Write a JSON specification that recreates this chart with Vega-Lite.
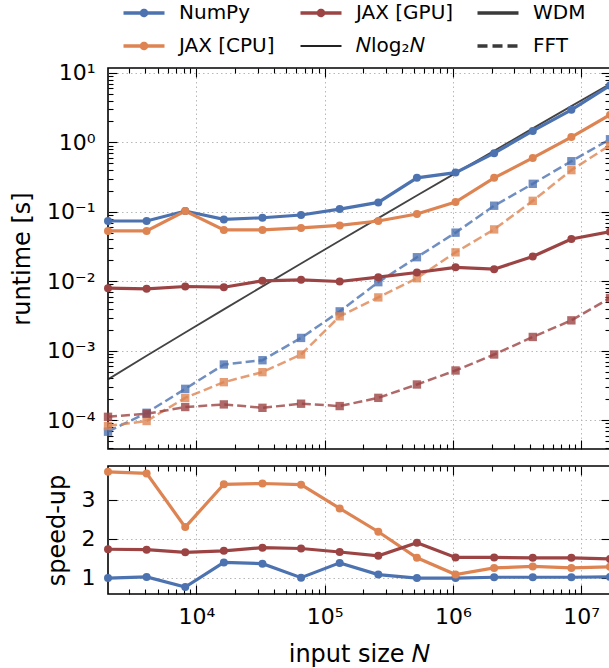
{
"$schema":"https://vega.github.io/schema/vega-lite/v6.json",
"padding":{"left":9,"right":0,"top":2,"bottom":4},
"background":"white",
"config":{
  "font":"DejaVu Sans",
  "view":{"stroke":"#000","strokeWidth":1.6},
  "axis":{"labelFont":"DejaVu Sans","titleFont":"DejaVu Sans","labelFontSize":22,"titleFontSize":24,"titleFontWeight":"normal","labelColor":"#000","titleColor":"#000","domain":false,"gridColor":"#b0b0b0","gridDash":[1.5,3],"gridWidth":0.9,"tickColor":"#000","tickWidth":1.1}
},
"datasets":{
"runtime":[
{"N":2048,"impl":"NumPy","method":"WDM","runtime":0.0738},
{"N":4096,"impl":"NumPy","method":"WDM","runtime":0.0738},
{"N":8192,"impl":"NumPy","method":"WDM","runtime":0.1026},
{"N":16384,"impl":"NumPy","method":"WDM","runtime":0.0778},
{"N":32768,"impl":"NumPy","method":"WDM","runtime":0.0822},
{"N":65536,"impl":"NumPy","method":"WDM","runtime":0.0899},
{"N":131072,"impl":"NumPy","method":"WDM","runtime":0.1096},
{"N":262144,"impl":"NumPy","method":"WDM","runtime":0.1364},
{"N":524288,"impl":"NumPy","method":"WDM","runtime":0.308},
{"N":1048576,"impl":"NumPy","method":"WDM","runtime":0.367},
{"N":2097152,"impl":"NumPy","method":"WDM","runtime":0.698},
{"N":4194304,"impl":"NumPy","method":"WDM","runtime":1.46},
{"N":8388608,"impl":"NumPy","method":"WDM","runtime":2.94},
{"N":16777216,"impl":"NumPy","method":"WDM","runtime":6.59},
{"N":2048,"impl":"JAX [CPU]","method":"WDM","runtime":0.0531},
{"N":4096,"impl":"JAX [CPU]","method":"WDM","runtime":0.0531},
{"N":8192,"impl":"JAX [CPU]","method":"WDM","runtime":0.1026},
{"N":16384,"impl":"JAX [CPU]","method":"WDM","runtime":0.0548},
{"N":32768,"impl":"JAX [CPU]","method":"WDM","runtime":0.0548},
{"N":65536,"impl":"JAX [CPU]","method":"WDM","runtime":0.0586},
{"N":131072,"impl":"JAX [CPU]","method":"WDM","runtime":0.0638},
{"N":262144,"impl":"JAX [CPU]","method":"WDM","runtime":0.0738},
{"N":524288,"impl":"JAX [CPU]","method":"WDM","runtime":0.0929},
{"N":1048576,"impl":"JAX [CPU]","method":"WDM","runtime":0.138},
{"N":2097152,"impl":"JAX [CPU]","method":"WDM","runtime":0.308},
{"N":4194304,"impl":"JAX [CPU]","method":"WDM","runtime":0.597},
{"N":8388608,"impl":"JAX [CPU]","method":"WDM","runtime":1.19},
{"N":16777216,"impl":"JAX [CPU]","method":"WDM","runtime":2.49},
{"N":2048,"impl":"JAX [GPU]","method":"WDM","runtime":0.00796},
{"N":4096,"impl":"JAX [GPU]","method":"WDM","runtime":0.0078},
{"N":8192,"impl":"JAX [GPU]","method":"WDM","runtime":0.00841},
{"N":16384,"impl":"JAX [GPU]","method":"WDM","runtime":0.00822},
{"N":32768,"impl":"JAX [GPU]","method":"WDM","runtime":0.01016},
{"N":65536,"impl":"JAX [GPU]","method":"WDM","runtime":0.0105},
{"N":131072,"impl":"JAX [GPU]","method":"WDM","runtime":0.00993},
{"N":262144,"impl":"JAX [GPU]","method":"WDM","runtime":0.01145},
{"N":524288,"impl":"JAX [GPU]","method":"WDM","runtime":0.01337},
{"N":1048576,"impl":"JAX [GPU]","method":"WDM","runtime":0.0159},
{"N":2097152,"impl":"JAX [GPU]","method":"WDM","runtime":0.01492},
{"N":4194304,"impl":"JAX [GPU]","method":"WDM","runtime":0.0227},
{"N":8388608,"impl":"JAX [GPU]","method":"WDM","runtime":0.0407},
{"N":16777216,"impl":"JAX [GPU]","method":"WDM","runtime":0.0518},
{"N":2048,"impl":"NumPy","method":"FFT","runtime":0.0000684},
{"N":4096,"impl":"NumPy","method":"FFT","runtime":0.000128},
{"N":8192,"impl":"NumPy","method":"FFT","runtime":0.000283},
{"N":16384,"impl":"NumPy","method":"FFT","runtime":0.000634},
{"N":32768,"impl":"NumPy","method":"FFT","runtime":0.000731},
{"N":65536,"impl":"NumPy","method":"FFT","runtime":0.00153},
{"N":131072,"impl":"NumPy","method":"FFT","runtime":0.00369},
{"N":262144,"impl":"NumPy","method":"FFT","runtime":0.00971},
{"N":524288,"impl":"NumPy","method":"FFT","runtime":0.0222},
{"N":1048576,"impl":"NumPy","method":"FFT","runtime":0.0501},
{"N":2097152,"impl":"NumPy","method":"FFT","runtime":0.1224},
{"N":4194304,"impl":"NumPy","method":"FFT","runtime":0.253},
{"N":8388608,"impl":"NumPy","method":"FFT","runtime":0.535},
{"N":16777216,"impl":"NumPy","method":"FFT","runtime":1.108},
{"N":2048,"impl":"JAX [CPU]","method":"FFT","runtime":0.0000826},
{"N":4096,"impl":"JAX [CPU]","method":"FFT","runtime":0.0000975},
{"N":8192,"impl":"JAX [CPU]","method":"FFT","runtime":0.00021},
{"N":16384,"impl":"JAX [CPU]","method":"FFT","runtime":0.000353},
{"N":32768,"impl":"JAX [CPU]","method":"FFT","runtime":0.000492},
{"N":65536,"impl":"JAX [CPU]","method":"FFT","runtime":0.000883},
{"N":131072,"impl":"JAX [CPU]","method":"FFT","runtime":0.00313},
{"N":262144,"impl":"JAX [CPU]","method":"FFT","runtime":0.00586},
{"N":524288,"impl":"JAX [CPU]","method":"FFT","runtime":0.01107},
{"N":1048576,"impl":"JAX [CPU]","method":"FFT","runtime":0.0261},
{"N":2097152,"impl":"JAX [CPU]","method":"FFT","runtime":0.0558},
{"N":4194304,"impl":"JAX [CPU]","method":"FFT","runtime":0.144},
{"N":8388608,"impl":"JAX [CPU]","method":"FFT","runtime":0.398},
{"N":16777216,"impl":"JAX [CPU]","method":"FFT","runtime":0.909},
{"N":2048,"impl":"JAX [GPU]","method":"FFT","runtime":0.000112},
{"N":4096,"impl":"JAX [GPU]","method":"FFT","runtime":0.000124},
{"N":8192,"impl":"JAX [GPU]","method":"FFT","runtime":0.000155},
{"N":16384,"impl":"JAX [GPU]","method":"FFT","runtime":0.000169},
{"N":32768,"impl":"JAX [GPU]","method":"FFT","runtime":0.000151},
{"N":65536,"impl":"JAX [GPU]","method":"FFT","runtime":0.000173},
{"N":131072,"impl":"JAX [GPU]","method":"FFT","runtime":0.00016},
{"N":262144,"impl":"JAX [GPU]","method":"FFT","runtime":0.00021},
{"N":524288,"impl":"JAX [GPU]","method":"FFT","runtime":0.000327},
{"N":1048576,"impl":"JAX [GPU]","method":"FFT","runtime":0.00052},
{"N":2097152,"impl":"JAX [GPU]","method":"FFT","runtime":0.000883},
{"N":4194304,"impl":"JAX [GPU]","method":"FFT","runtime":0.00158},
{"N":8388608,"impl":"JAX [GPU]","method":"FFT","runtime":0.00274},
{"N":16777216,"impl":"JAX [GPU]","method":"FFT","runtime":0.00573},
{"N":2048,"impl":"𝑁log₂𝑁","method":"ref","runtime":0.0003875},
{"N":4096,"impl":"𝑁log₂𝑁","method":"ref","runtime":0.0008454},
{"N":8192,"impl":"𝑁log₂𝑁","method":"ref","runtime":0.001832},
{"N":16384,"impl":"𝑁log₂𝑁","method":"ref","runtime":0.003945},
{"N":32768,"impl":"𝑁log₂𝑁","method":"ref","runtime":0.008454},
{"N":65536,"impl":"𝑁log₂𝑁","method":"ref","runtime":0.018035},
{"N":131072,"impl":"𝑁log₂𝑁","method":"ref","runtime":0.038325},
{"N":262144,"impl":"𝑁log₂𝑁","method":"ref","runtime":0.08116},
{"N":524288,"impl":"𝑁log₂𝑁","method":"ref","runtime":0.17134},
{"N":1048576,"impl":"𝑁log₂𝑁","method":"ref","runtime":0.36071},
{"N":2097152,"impl":"𝑁log₂𝑁","method":"ref","runtime":0.75749},
{"N":4194304,"impl":"𝑁log₂𝑁","method":"ref","runtime":1.5871},
{"N":8388608,"impl":"𝑁log₂𝑁","method":"ref","runtime":3.3185},
{"N":16777216,"impl":"𝑁log₂𝑁","method":"ref","runtime":6.9256}
],
"speedup":[
{"N":2048,"impl":"NumPy","speedup":0.99},
{"N":4096,"impl":"NumPy","speedup":1.02},
{"N":8192,"impl":"NumPy","speedup":0.76},
{"N":16384,"impl":"NumPy","speedup":1.39},
{"N":32768,"impl":"NumPy","speedup":1.36},
{"N":65536,"impl":"NumPy","speedup":1.0},
{"N":131072,"impl":"NumPy","speedup":1.38},
{"N":262144,"impl":"NumPy","speedup":1.08},
{"N":524288,"impl":"NumPy","speedup":0.99},
{"N":1048576,"impl":"NumPy","speedup":0.99},
{"N":2097152,"impl":"NumPy","speedup":1.01},
{"N":4194304,"impl":"NumPy","speedup":1.01},
{"N":8388608,"impl":"NumPy","speedup":1.01},
{"N":16777216,"impl":"NumPy","speedup":1.02},
{"N":2048,"impl":"JAX [CPU]","speedup":3.72},
{"N":4096,"impl":"JAX [CPU]","speedup":3.68},
{"N":8192,"impl":"JAX [CPU]","speedup":2.3},
{"N":16384,"impl":"JAX [CPU]","speedup":3.4},
{"N":32768,"impl":"JAX [CPU]","speedup":3.42},
{"N":65536,"impl":"JAX [CPU]","speedup":3.39},
{"N":131072,"impl":"JAX [CPU]","speedup":2.78},
{"N":262144,"impl":"JAX [CPU]","speedup":2.18},
{"N":524288,"impl":"JAX [CPU]","speedup":1.51},
{"N":1048576,"impl":"JAX [CPU]","speedup":1.08},
{"N":2097152,"impl":"JAX [CPU]","speedup":1.25},
{"N":4194304,"impl":"JAX [CPU]","speedup":1.29},
{"N":8388608,"impl":"JAX [CPU]","speedup":1.25},
{"N":16777216,"impl":"JAX [CPU]","speedup":1.28},
{"N":2048,"impl":"JAX [GPU]","speedup":1.73},
{"N":4096,"impl":"JAX [GPU]","speedup":1.72},
{"N":8192,"impl":"JAX [GPU]","speedup":1.65},
{"N":16384,"impl":"JAX [GPU]","speedup":1.69},
{"N":32768,"impl":"JAX [GPU]","speedup":1.77},
{"N":65536,"impl":"JAX [GPU]","speedup":1.75},
{"N":131072,"impl":"JAX [GPU]","speedup":1.66},
{"N":262144,"impl":"JAX [GPU]","speedup":1.56},
{"N":524288,"impl":"JAX [GPU]","speedup":1.9},
{"N":1048576,"impl":"JAX [GPU]","speedup":1.52},
{"N":2097152,"impl":"JAX [GPU]","speedup":1.52},
{"N":4194304,"impl":"JAX [GPU]","speedup":1.51},
{"N":8388608,"impl":"JAX [GPU]","speedup":1.51},
{"N":16777216,"impl":"JAX [GPU]","speedup":1.48}
]
},
"spacing":13,
"resolve":{"scale":{"color":"independent"},"legend":{"color":"independent"}},
"vconcat":[
{
 "width":502,"height":381,
 "data":{"name":"runtime"},
 "layer":[
  {
   "encoding":{
    "x":{"field":"N","type":"quantitative","scale":{"type":"log","domain":[2048,16777216],"nice":false},
      "axis":{"orient":"bottom","title":null,"labels":false,
        "values":[3000,4000,5000,6000,7000,8000,9000,10000,20000,30000,40000,50000,60000,70000,80000,90000,100000,200000,300000,400000,500000,600000,700000,800000,900000,1000000,2000000,3000000,4000000,5000000,6000000,7000000,8000000,9000000,10000000],
        "tickSize":{"condition":{"test":"abs(log(datum.value)/LN10 - round(log(datum.value)/LN10)) < 0.001","value":-9},"value":-5},
        "gridOpacity":{"condition":{"test":"abs(log(datum.value)/LN10 - round(log(datum.value)/LN10)) < 0.001","value":1},"value":0}}},
    "y":{"field":"runtime","type":"quantitative","scale":{"type":"log","domain":[0.00003855,11.75],"nice":false},
      "axis":{"orient":"left","title":"runtime [s]","titlePadding":12,"labelPadding":22,
        "values":[0.00004,0.00005,0.00006,0.00007,0.00008,0.00009,0.0001,0.0002,0.0003,0.0004,0.0005,0.0006,0.0007,0.0008,0.0009,0.001,0.002,0.003,0.004,0.005,0.006,0.007,0.008,0.009,0.01,0.02,0.03,0.04,0.05,0.06,0.07,0.08,0.09,0.1,0.2,0.3,0.4,0.5,0.6,0.7,0.8,0.9,1,2,3,4,5,6,7,8,9,10],
        "labelExpr":"abs(log(datum.value)/LN10 - round(log(datum.value)/LN10)) < 0.001 ? '10' + (round(log(datum.value)/LN10) < 0 ? '⁻' : '') + ['⁰','¹','²','³','⁴','⁵','⁶','⁷'][abs(round(log(datum.value)/LN10))] : ''",
        "tickSize":{"condition":{"test":"abs(log(datum.value)/LN10 - round(log(datum.value)/LN10)) < 0.001","value":-9},"value":-5},
        "gridOpacity":{"condition":{"test":"abs(log(datum.value)/LN10 - round(log(datum.value)/LN10)) < 0.001","value":1},"value":0}}},
    "color":{"field":"impl","type":"nominal",
      "scale":{"domain":["NumPy","JAX [GPU]","WDM","JAX [CPU]","𝑁log₂𝑁","FFT"],"range":["#4c72b0","#9c4444","#3a3a3a","#dd8452","#222222","#3a3a3a"]},
      "legend":{"orient":"none","legendX":26,"legendY":-65,"direction":"horizontal","columns":3,"gridAlign":"all","title":null,
        "labelFontSize":20,"labelFont":"DejaVu Sans","labelColor":"#000","labelLimit":300,
        "symbolSize":400,"symbolType":"M-2.05,0H2.05","symbolStrokeWidth":3,
        "labelOffset":25,"columnPadding":16,"rowPadding":13,"padding":0,
        "encode":{"symbols":{"update":{
          "shape":{"signal":"indexof(['NumPy','JAX [CPU]','JAX [GPU]'], datum.label) >= 0 ? 'M-2.05,0H2.05M0.25,0A0.25,0.25,0,1,1,-0.25,0A0.25,0.25,0,1,1,0.25,0Z' : 'M-2.05,0H2.05'"},
          "stroke":{"signal":"datum.label == 'NumPy' ? '#4c72b0' : datum.label == 'JAX [CPU]' ? '#dd8452' : datum.label == 'JAX [GPU]' ? '#9c4444' : datum.label == 'WDM' || datum.label == 'FFT' ? '#3a3a3a' : '#333333'"},
          "fill":{"signal":"datum.label == 'NumPy' ? '#4c72b0' : datum.label == 'JAX [CPU]' ? '#dd8452' : datum.label == 'JAX [GPU]' ? '#9c4444' : 'transparent'"},
          "strokeWidth":{"signal":"datum.label == '𝑁log₂𝑁' ? 2 : 3.5"},
          "strokeDash":{"signal":"datum.label == 'FFT' ? [10,5] : [1,0]"},
          "opacity":{"value":1}
        }}}}}
   },
   "layer":[
    {"transform":[{"filter":"datum.method == 'ref'"}],"mark":{"type":"line","strokeWidth":1.8,"opacity":0.85}},
    {"transform":[{"filter":"datum.method == 'FFT'"}],"mark":{"type":"line","strokeWidth":2.5,"strokeDash":[9,4],"opacity":0.8,"point":{"shape":"square","filled":true,"size":70,"opacity":0.8}}},
    {"transform":[{"filter":"datum.method == 'WDM'"}],"mark":{"type":"line","strokeWidth":3.2,"point":{"filled":true,"size":64,"opacity":1}}}
   ]
  },
  {
   "mark":{"type":"point","opacity":0},
   "encoding":{
    "x":{"field":"N","type":"quantitative","scale":{"type":"log","domain":[2048,16777216],"nice":false},
      "axis":{"orient":"top","title":null,"labels":false,"grid":false,
        "values":[3000,4000,5000,6000,7000,8000,9000,10000,20000,30000,40000,50000,60000,70000,80000,90000,100000,200000,300000,400000,500000,600000,700000,800000,900000,1000000,2000000,3000000,4000000,5000000,6000000,7000000,8000000,9000000,10000000],
        "tickSize":{"condition":{"test":"abs(log(datum.value)/LN10 - round(log(datum.value)/LN10)) < 0.001","value":-9},"value":-5}}},
    "y":{"field":"runtime","type":"quantitative","scale":{"type":"log","domain":[0.00003855,11.75],"nice":false},
      "axis":{"orient":"right","title":null,"labels":false,"grid":false,
        "values":[0.00004,0.00005,0.00006,0.00007,0.00008,0.00009,0.0001,0.0002,0.0003,0.0004,0.0005,0.0006,0.0007,0.0008,0.0009,0.001,0.002,0.003,0.004,0.005,0.006,0.007,0.008,0.009,0.01,0.02,0.03,0.04,0.05,0.06,0.07,0.08,0.09,0.1,0.2,0.3,0.4,0.5,0.6,0.7,0.8,0.9,1,2,3,4,5,6,7,8,9,10],
        "tickSize":{"condition":{"test":"abs(log(datum.value)/LN10 - round(log(datum.value)/LN10)) < 0.001","value":-9},"value":-5}}}
   }
  }
 ],
 "resolve":{"axis":{"x":"independent","y":"independent"}}
},
{
 "width":502,"height":128,
 "data":{"name":"speedup"},
 "layer":[
  {
   "mark":{"type":"line","strokeWidth":3.2,"point":{"filled":true,"size":64}},
   "encoding":{
    "x":{"field":"N","type":"quantitative","scale":{"type":"log","domain":[2048,16777216],"nice":false},
      "axis":{"orient":"bottom","title":"input size 𝑁","titlePadding":15,"labelPadding":21,
        "values":[3000,4000,5000,6000,7000,8000,9000,10000,20000,30000,40000,50000,60000,70000,80000,90000,100000,200000,300000,400000,500000,600000,700000,800000,900000,1000000,2000000,3000000,4000000,5000000,6000000,7000000,8000000,9000000,10000000],
        "labelExpr":"abs(log(datum.value)/LN10 - round(log(datum.value)/LN10)) < 0.001 ? '10' + ['⁰','¹','²','³','⁴','⁵','⁶','⁷'][round(log(datum.value)/LN10)] : ''",
        "tickSize":{"condition":{"test":"abs(log(datum.value)/LN10 - round(log(datum.value)/LN10)) < 0.001","value":-9},"value":-5},
        "gridOpacity":{"condition":{"test":"abs(log(datum.value)/LN10 - round(log(datum.value)/LN10)) < 0.001","value":1},"value":0}}},
    "y":{"field":"speedup","type":"quantitative","scale":{"domain":[0.58,3.87],"nice":false,"zero":false},
      "axis":{"orient":"left","title":"speed-up","titlePadding":12,"labelPadding":22,"values":[1,2,3],"tickSize":-9}},
    "color":{"field":"impl","type":"nominal","scale":{"domain":["NumPy","JAX [CPU]","JAX [GPU]"],"range":["#4c72b0","#dd8452","#9c4444"]},"legend":null}
   }
  },
  {
   "mark":{"type":"point","opacity":0},
   "encoding":{
    "x":{"field":"N","type":"quantitative","scale":{"type":"log","domain":[2048,16777216],"nice":false},
      "axis":{"orient":"top","title":null,"labels":false,"grid":false,
        "values":[3000,4000,5000,6000,7000,8000,9000,10000,20000,30000,40000,50000,60000,70000,80000,90000,100000,200000,300000,400000,500000,600000,700000,800000,900000,1000000,2000000,3000000,4000000,5000000,6000000,7000000,8000000,9000000,10000000],
        "tickSize":{"condition":{"test":"abs(log(datum.value)/LN10 - round(log(datum.value)/LN10)) < 0.001","value":-9},"value":-5}}},
    "y":{"field":"speedup","type":"quantitative","scale":{"domain":[0.58,3.87],"nice":false,"zero":false},
      "axis":{"orient":"right","title":null,"labels":false,"grid":false,"values":[1,2,3],"tickSize":-9}}
   }
  }
 ],
 "resolve":{"axis":{"x":"independent","y":"independent"}}
}
]
}
